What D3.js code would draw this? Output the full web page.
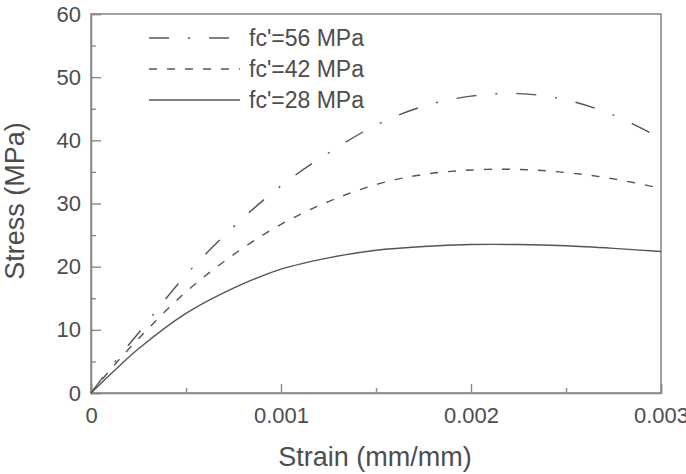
<!DOCTYPE html>
<html>
<head>
<meta charset="utf-8">
<script src="https://cdn.jsdelivr.net/npm/d3@7"></script>
<style>
  html, body { margin: 0; padding: 0; background: #fff; }
  svg { display: block; }
  text { font-family: "Liberation Sans", Arial, sans-serif; fill: #4d4d4d; }
</style>
</head>
<body>
<svg id="chart" width="686" height="474"></svg>
<script>
// Data
const strain = [0, 0.000125, 0.00025, 0.0005, 0.00075, 0.001, 0.00125, 0.0015, 0.00175, 0.002, 0.00225, 0.0025, 0.00275, 0.003];
const fc56 = [0, 4.9, 9.5, 18.7, 26.3, 32.8, 38.0, 42.4, 45.4, 47.0, 47.4, 46.4, 44.0, 40.3];
const fc42 = [0, 4.5, 8.6, 16.0, 21.9, 26.7, 30.3, 33.0, 34.6, 35.3, 35.4, 34.9, 33.9, 32.4];
const fc28 = [0, 3.6, 7.0, 12.6, 16.6, 19.6, 21.4, 22.6, 23.2, 23.5, 23.5, 23.3, 22.9, 22.4];
const seriesNames = ["fc'=56 MPa", "fc'=42 MPa", "fc'=28 MPa"];
const xTicks = [0, 0.001, 0.002, 0.003];
const xTickLabels = ["0", "0.001", "0.002", "0.003"];
const xMinorTicks = [0.0005, 0.0015, 0.0025];
const yTicks = [0, 10, 20, 30, 40, 50, 60];
const yMinorTicks = [5, 15, 25, 35, 45, 55];
const xTitle = "Strain (mm/mm)";
const yTitle = "Stress (MPa)";

const series = [
  { name: seriesNames[0], values: fc56, dash: "20,19,2,19" },
  { name: seriesNames[1], values: fc42, dash: "8,10" },
  { name: seriesNames[2], values: fc28, dash: null }
];

const svg = d3.select("#chart");
const pL = 91, pR = 661, pT = 14, pB = 393;
const x = d3.scaleLinear().domain([0, 0.003]).range([pL, pR]);
const y = d3.scaleLinear().domain([0, 60]).range([pB, pT]);
const axisColor = "#8a8a8a";
const lineColor = "#555";

// frame
svg.append("rect")
  .attr("x", pL).attr("y", pT)
  .attr("width", pR - pL).attr("height", pB - pT)
  .attr("fill", "none").attr("stroke", axisColor).attr("stroke-width", 1.6);

// x axis (ticks inward)
const xAxis = d3.axisBottom(x).tickValues(xTicks).tickSize(-9)
  .tickFormat((d, i) => xTickLabels[i]).tickPadding(14);
const gx = svg.append("g").attr("transform", `translate(0,${pB})`).call(xAxis);
gx.select(".domain").attr("stroke", axisColor).attr("stroke-width", 1.6);
gx.selectAll(".tick line").attr("stroke", axisColor).attr("stroke-width", 1.4);
gx.attr("font-family", null).attr("font-size", null);
gx.selectAll(".tick text").style("font-size", "22px").attr("fill", "#4d4d4d");
const xMinor = d3.axisBottom(x).tickValues(xMinorTicks).tickSize(-5).tickFormat("");
const gxm = svg.append("g").attr("transform", `translate(0,${pB})`).call(xMinor);
gxm.select(".domain").remove();
gxm.selectAll(".tick line").attr("stroke", axisColor).attr("stroke-width", 1.4);

// y axis (ticks inward)
const yAxis = d3.axisLeft(y).tickValues(yTicks).tickSize(-10).tickPadding(10);
const gy = svg.append("g").attr("transform", `translate(${pL},0)`).call(yAxis);
gy.select(".domain").attr("stroke", axisColor).attr("stroke-width", 1.6);
gy.selectAll(".tick line").attr("stroke", axisColor).attr("stroke-width", 1.4);
gy.attr("font-family", null).attr("font-size", null);
gy.selectAll(".tick text").style("font-size", "22px").attr("fill", "#4d4d4d");
const yMinor = d3.axisLeft(y).tickValues(yMinorTicks).tickSize(-5).tickFormat("");
const gym = svg.append("g").attr("transform", `translate(${pL},0)`).call(yMinor);
gym.select(".domain").remove();
gym.selectAll(".tick line").attr("stroke", axisColor).attr("stroke-width", 1.4);

// axis titles
svg.append("text").attr("x", 375).attr("y", 466)
  .attr("text-anchor", "middle").style("font-size", "27px").text(xTitle);
svg.append("text")
  .attr("transform", `translate(24,201) rotate(-90)`)
  .attr("text-anchor", "middle").style("font-size", "27px").text(yTitle);

// curves
const line = d3.line()
  .x((d, i) => x(strain[i]))
  .y(d => y(d))
  .curve(d3.curveCatmullRom.alpha(0.5));

series.forEach(s => {
  svg.append("path")
    .attr("d", line(s.values))
    .attr("fill", "none")
    .attr("stroke", lineColor)
    .attr("stroke-width", 1.4)
    .attr("stroke-dasharray", s.dash);
});

// legend
const legendY = [38, 69, 100];
series.forEach((s, i) => {
  svg.append("line")
    .attr("x1", 149).attr("x2", 240)
    .attr("y1", legendY[i]).attr("y2", legendY[i])
    .attr("stroke", lineColor).attr("stroke-width", 1.4)
    .attr("stroke-dasharray", s.dash);
  svg.append("text")
    .attr("x", 249).attr("y", legendY[i] + 8)
    .style("font-size", "23px")
    .text(s.name);
});
</script>
</body>
</html>
